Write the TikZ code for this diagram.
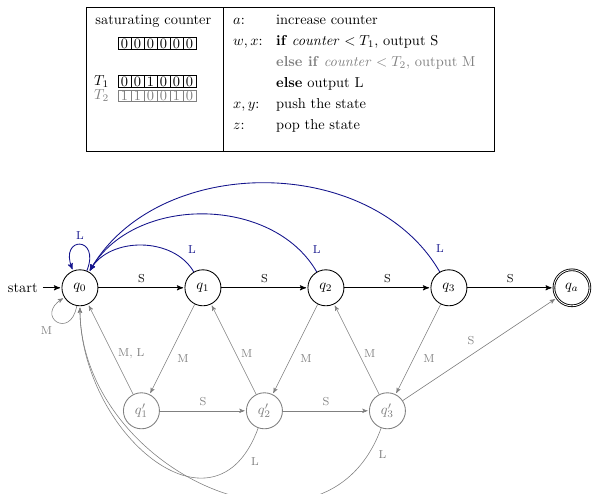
\documentclass[tikz,border=0pt]{standalone}
\usepackage{amsmath, amssymb}
\usepackage{tikz}
\usetikzlibrary{positioning, automata, arrows}
\definecolor{lblue}{RGB}{20,20,140}

\begin{document}
\begin{tikzpicture}[>=stealth', shorten >=1pt, auto, node distance=3cm, on grid, semithick,
    every state/.style={minimum size=25pt, inner sep=0pt},
    ghost/.style={draw=gray, text=gray},
    cell/.style={draw, minimum width=0.317cm, minimum height=0.29cm, inner sep=0pt}]
  \useasboundingbox (-1.95,-5.02) rectangle (12.49,7.02);

  % Draw legend box
  \draw[thin] (0.146,3.32) rectangle (10.10,6.85);
  \draw[thin] (3.49,3.32) -- (3.49,6.85);

  % Counter and thresholds
  \node[anchor=base west] (satur) at (0.25,6.415) {saturating counter};
  \foreach \i/\b in {0/0, 1/0, 2/0, 3/0, 4/0, 5/0} {
    \node[cell] (c\i) at (1.086+0.317*\i,5.96) {\b};
  }
  \node[anchor=west] (ta) at (0.22,5.03) {$T_1$};
  \foreach \i/\b in {0/0, 1/0, 2/1, 3/0, 4/0, 5/0} {
    \node[cell] (ta\i) at (1.086+0.317*\i,5.03) {\b};
  }
  \node[anchor=west, gray] (tb) at (0.22,4.68) {$T_2$};
  \foreach \i/\b in {0/1, 1/1, 2/0, 3/0, 4/1, 5/0} {
    \node[cell, gray] (tb\i) at (1.086+0.317*\i,4.68) {\b};
  }

  % Input symbols and what they do
  \foreach \y/\k/\t [count=\n] in {6.415/{$a$:}/{increase counter},
      5.902/{$w,x$:}/{\textbf{if} \textit{counter} $<T_1$, output S},
      5.390//{\color{gray}\textbf{else if} \textit{counter} $<T_2$, output M},
      4.878//{\textbf{else} output L},
      4.366/{$x,y$:}/{push the state},
      3.854/{$z$:}/{pop the state}} {
    \node[anchor=base west] (key\n) at (3.61,\y) {\k};
    \node[anchor=base west] (act\n) at (4.66,\y) {\t};
  }

  % States
  \node[state, initial] (q0) {$q_0$};
  \node[state, right=of q0] (q1) {$q_1$};
  \node[state, right=of q1] (q2) {$q_2$};
  \node[state, right=of q2] (q3) {$q_3$};
  \node[state, accepting, right=of q3] (qa) {$q_a$};
  \node[state, ghost, below right=3cm and 1.5cm of q0] (p1) {$q'_1$};
  \node[state, ghost, right=of p1] (p2) {$q'_2$};
  \node[state, ghost, right=of p2] (p3) {$q'_3$};

  % Short counts
  \path[->, every node/.style={font=\footnotesize}]
    (q0) edge node {S} (q1)
    (q1) edge node {S} (q2)
    (q2) edge node {S} (q3)
    (q3) edge node {S} (qa);

  % Long counts go back to the start
  \path[->, lblue, every node/.style={font=\footnotesize}]
    (q0) edge[out=68, in=112, looseness=7] node[above] {L} (q0)
    (q1) edge[out=120, in=60] node[pos=.14, swap] {L} (q0)
    (q2) edge[out=120, in=60] node[pos=.06, swap] {L} (q0)
    (q3) edge[out=120, in=60] node[pos=.04, swap] {L} (q0);

  % Medium counts
  \path[->, gray, thin, every node/.style={font=\footnotesize}]
    (q0) edge[out=260, in=212, looseness=6] node[below left] {M} (q0)
    (q1) edge node {M} (p1)
    (p1) edge node[pos=.45, right] {M, L} (q0)
    (q2) edge node {M} (p2)
    (p2) edge node[pos=.45, right] {M} (q1)
    (q3) edge node {M} (p3)
    (p3) edge node[pos=.45, right] {M} (q2)
    (p1) edge node {S} (p2)
    (p2) edge node {S} (p3)
    (p3) edge node {S} (qa)
    (p2) edge[out=250, in=270, looseness=1.5] node[pos=.08] {L} (q0)
    (p3) edge[out=250, in=270, looseness=1.3] node[pos=.04] {L} (q0);
\end{tikzpicture}
\end{document}
